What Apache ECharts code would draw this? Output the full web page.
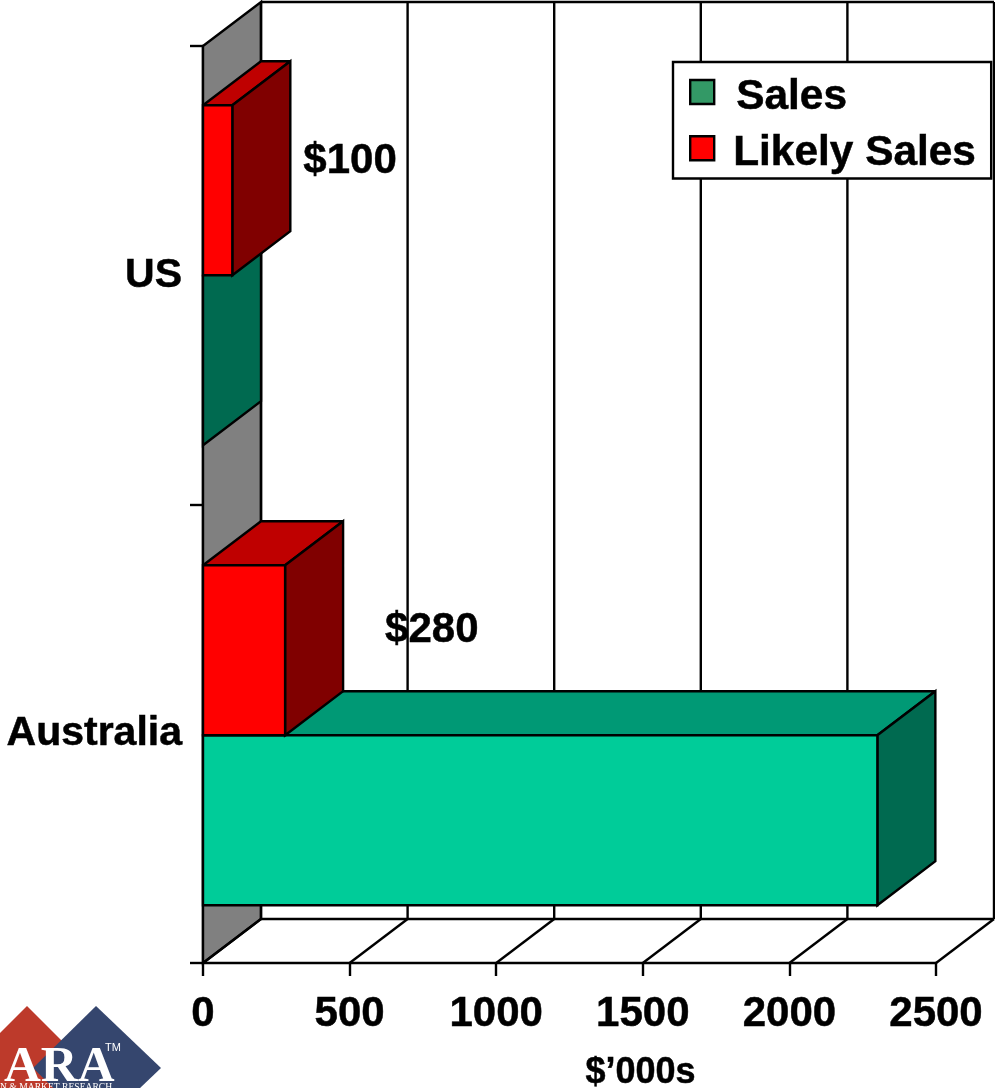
<!DOCTYPE html>
<html>
<head>
<meta charset="utf-8">
<style>html,body{margin:0;padding:0;background:#fff}#c{width:995px;height:1088px}</style>
<script src="https://cdn.jsdelivr.net/npm/echarts@6/dist/echarts.min.js"></script>
</head>
<body>
<div id="c"></div>
<script>
const categories = ['Australia', 'US'];
const salesValues = [2300, 0];
const likelyValues = [280, 100];
const xTicks = [0, 500, 1000, 1500, 2000, 2500];
const axisName = '$\u2019000s';
const seriesNames = ['Sales', 'Likely Sales'];

const FONT = '"Liberation Sans", Arial, sans-serif';
const DX = 58, DY = -44;          // oblique depth of the 3D box
const BAR_FRACTION = 170 / 458.5; // bar thickness as a share of the band
const bandNudge = [1.5, 0];       // small vertical placement tweak per category
const labelShift = [[100, -19.5], [71, -29]]; // label placement per category

const chart = echarts.init(document.getElementById('c'), null, {renderer: 'canvas'});
const LW = 2.4;
const HEAVY = {textBorderColor: '#000', textBorderWidth: 0.5};
const line = {stroke: '#000', lineWidth: LW};

function poly(points, fill) {
  return {type: 'polygon', shape: {points}, style: {fill, stroke: '#000', lineWidth: LW, lineJoin: 'miter', miterLimit: 3}};
}
function seg(x1, y1, x2, y2) {
  return {type: 'line', shape: {x1, y1, x2, y2}, style: line};
}

function boxRenderer(colors, above, withLabel) {
  return function (params, api) {
    const v = api.value(0), cat = api.value(1);
    const base = api.coord([0, cat]);
    const end = api.coord([v, cat]);
    const h = api.size([0, 1])[1] * BAR_FRACTION;
    const mid = base[1] + bandNudge[cat];
    const y0 = above ? mid - h : mid;
    const y1 = y0 + h;
    const x0 = base[0], x1 = end[0];
    const children = [];
    if (x1 > x0) {
      children.push(poly([[x0, y0], [x1, y0], [x1 + DX, y0 + DY], [x0 + DX, y0 + DY]], colors.top));
    }
    children.push(poly([[x1, y0], [x1 + DX, y0 + DY], [x1 + DX, y1 + DY], [x1, y1]], colors.side));
    if (x1 > x0) {
      children.push(poly([[x0, y0], [x1, y0], [x1, y1], [x0, y1]], colors.front));
    }
    if (withLabel) {
      const s = labelShift[cat];
      children.push({
        type: 'text', z2: 10,
        style: {
          text: '$' + v, x: x1 + s[0], y: (y0 + y1) / 2 + s[1],
          textAlign: 'left', textVerticalAlign: 'middle',
          font: 'bold 42px ' + FONT, fill: '#000',
          stroke: '#000', lineWidth: 0.5
        }
      });
    }
    return {type: 'group', children};
  };
}

const legendRich = Object.assign({fontFamily: FONT, fontWeight: 'bold', fontSize: 42.4, color: '#000', lineHeight: 46}, HEAVY);

chart.setOption({
  animation: false,
  backgroundColor: '#fff',
  grid: {left: 203, top: 46, width: 733, height: 917, containLabel: false, outerBoundsMode: 'none'},
  legend: {
    orient: 'vertical', left: 673, top: 62, selectedMode: false,
    backgroundColor: '#fff', borderColor: '#000', borderWidth: LW,
    padding: [4, 15, 4, 16], itemWidth: 24, itemHeight: 24, itemGap: 4, z: 20,
    formatter: name => '{a|' + name + '}',
    textStyle: {
      padding: [0, 0, 0, 14],
      rich: {a: Object.assign({padding: [10, 0, 0, 0]}, legendRich)}
    },
    data: [
      {name: seriesNames[0], icon: 'rect', itemStyle: {color: '#339966', borderColor: '#000', borderWidth: LW},
       textStyle: {padding: [0, 0, 0, 17], rich: {a: Object.assign({padding: [10, 0, 0, 0]}, legendRich)}}},
      {name: seriesNames[1], icon: 'rect', itemStyle: {color: '#ff0000', borderColor: '#000', borderWidth: LW}}
    ]
  },
  xAxis: {
    type: 'value', min: 0, max: 2500, interval: 500,
    splitLine: {show: false},
    axisLine: {show: true, lineStyle: {color: '#000', width: LW}},
    axisTick: {show: true, length: 13, lineStyle: {color: '#000', width: LW}},
    axisLabel: Object.assign({show: true, margin: 30, fontFamily: FONT, fontWeight: 'bold', fontSize: 42, color: '#000', hideOverlap: false,
      formatter: v => String(v)}, HEAVY),
    name: axisName, nameLocation: 'middle', nameGap: 92,
    nameTextStyle: Object.assign({fontFamily: FONT, fontWeight: 'bold', fontSize: 36, color: '#000', padding: [0, 0, 0, 142]}, HEAVY)
  },
  yAxis: {
    type: 'category', data: categories,
    axisLine: {show: true, lineStyle: {color: '#000', width: LW}},
    axisTick: {show: true, length: 13, alignWithLabel: false, lineStyle: {color: '#000', width: LW}},
    axisLabel: Object.assign({margin: 21, fontFamily: FONT, fontWeight: 'bold', fontSize: 41, color: '#000'}, HEAVY)
  },
  graphic: [
    {type: 'group', left: 0, top: 0, silent: true, z: 30, bounding: 'raw', children: [
      {type: 'polygon', shape: {points: [[27, 1006], [89, 1068], [27, 1130], [-35, 1068]]}, style: {fill: '#BD3A2B'}},
      {type: 'polygon', shape: {points: [[96, 1006], [161, 1068], [96, 1130], [33, 1068]]}, style: {fill: '#35466E'}},
      {type: 'text', style: {text: 'ARA', x: 4, y: 1093, textVerticalAlign: 'bottom', font: 'bold 51px "Liberation Serif", serif', fill: '#fff'}},
      {type: 'text', style: {text: 'TM', x: 105, y: 1048, textVerticalAlign: 'middle', font: '11px "Liberation Sans", sans-serif', fill: '#fff'}},
      {type: 'text', style: {text: 'N & MARKET RESEARCH', x: 0, y: 1087, textVerticalAlign: 'middle', font: '9.6px "Liberation Serif", serif', fill: '#fff'}}
    ]}
  ],
  series: [
    {
      type: 'custom', name: 'wall', coordinateSystem: 'cartesian2d', silent: true, z: 1,
      data: [[0, 0]], encode: {x: 0, y: 1},
      renderItem(params, api) {
        const c = params.coordSys;
        const L = c.x, T = c.y, B = c.y + c.height;
        return poly([[L, T], [L + DX, T + DY], [L + DX, B + DY], [L, B]], '#808080');
      }
    },
    {
      type: 'custom', name: 'frame', coordinateSystem: 'cartesian2d', silent: true, z: 1,
      data: xTicks.map(t => [t, 0]), encode: {x: 0, y: 1},
      renderItem(params, api) {
        const c = params.coordSys;
        const x = api.coord([api.value(0), 0])[0];
        const T = c.y, B = c.y + c.height;
        const children = [
          seg(x, B, x + DX, B + DY),
          seg(x + DX, T + DY, x + DX, B + DY)
        ];
        if (params.dataIndex === 0) {
          children.push(seg(c.x + DX, T + DY, c.x + c.width + DX, T + DY));
          children.push(seg(c.x + DX, B + DY, c.x + c.width + DX, B + DY));
        }
        return {type: 'group', children};
      }
    },
    {
      type: 'custom', name: seriesNames[0], coordinateSystem: 'cartesian2d', z: 2,
      itemStyle: {color: '#339966'},
      data: salesValues.map((v, i) => [v, i]), encode: {x: 0, y: 1},
      renderItem: boxRenderer({front: '#00CC99', top: '#009975', side: '#006A50'}, false, false)
    },
    {
      type: 'custom', name: seriesNames[1], coordinateSystem: 'cartesian2d', z: 3,
      itemStyle: {color: '#ff0000'},
      data: likelyValues.map((v, i) => [v, i]), encode: {x: 0, y: 1},
      renderItem: boxRenderer({front: '#FF0000', top: '#BF0000', side: '#800000'}, true, true)
    }
  ]
});
</script>
</body>
</html>
